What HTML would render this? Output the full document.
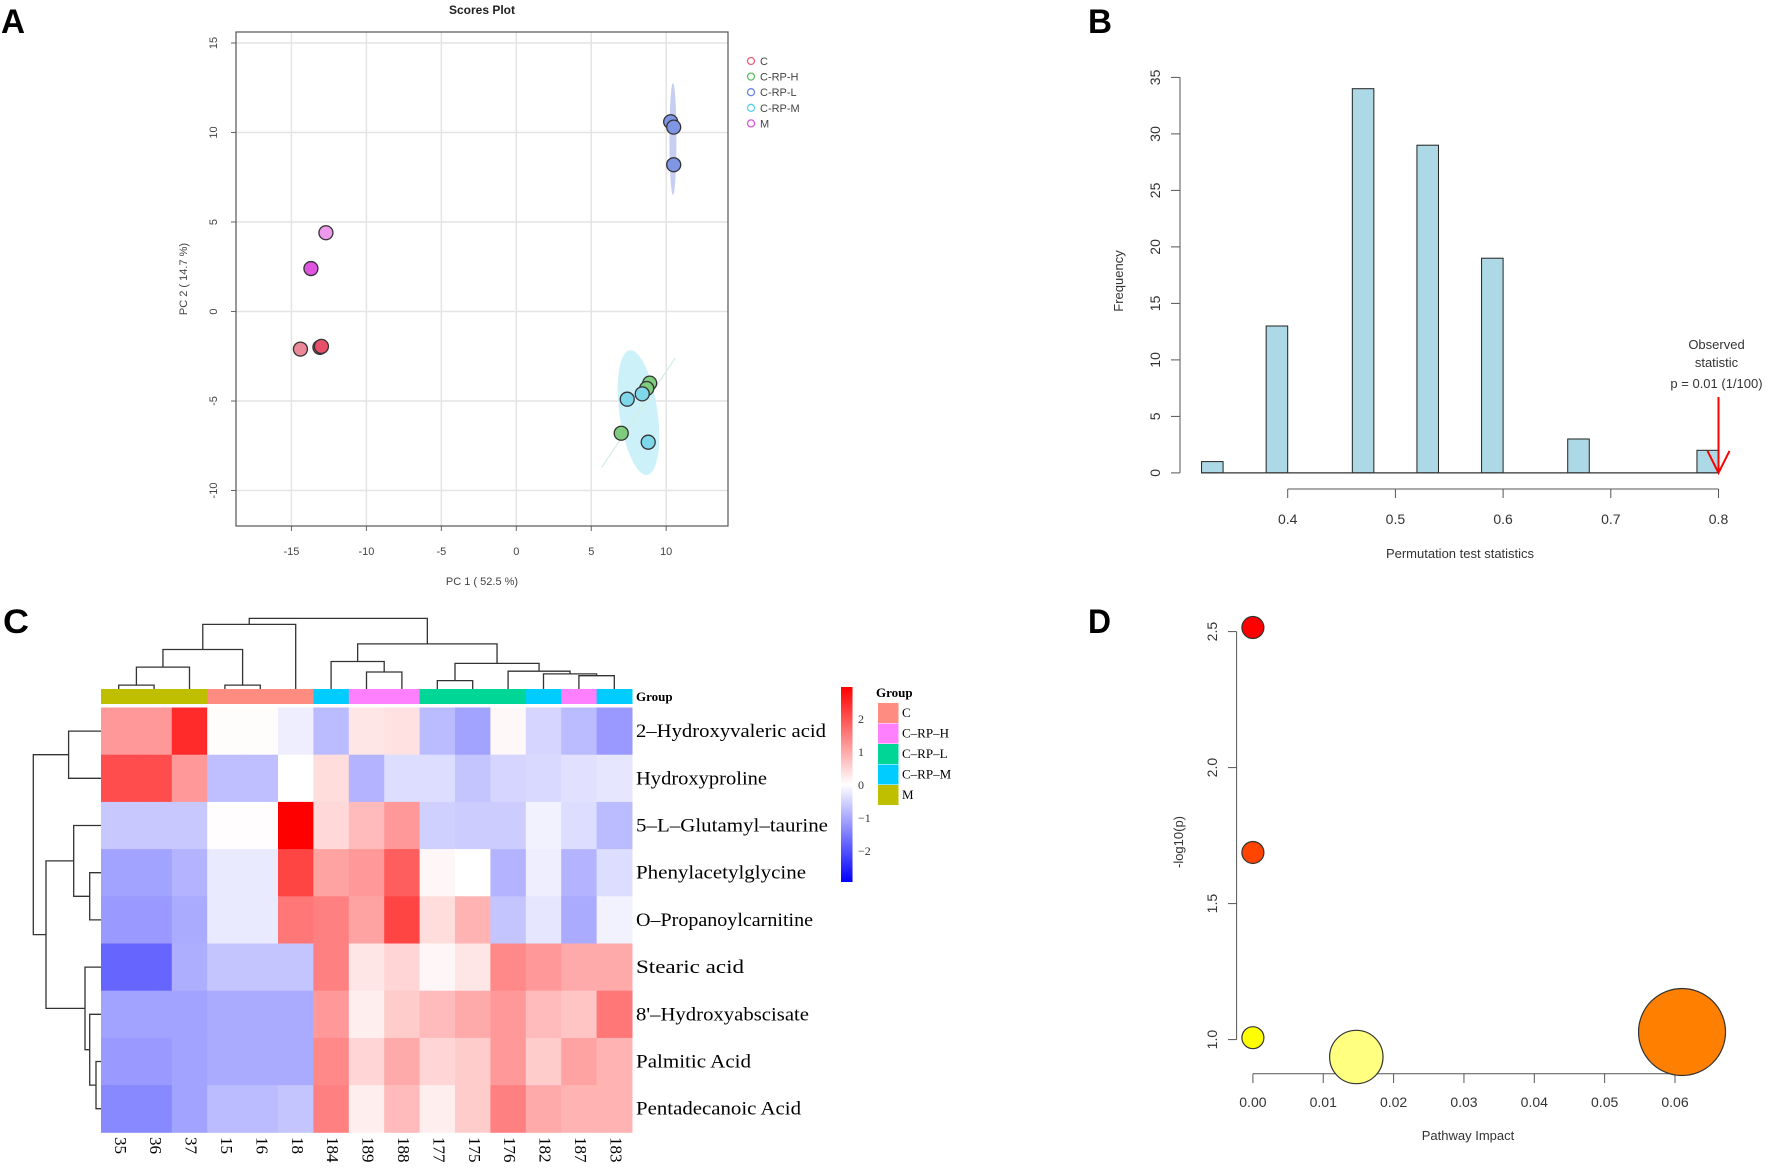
<!DOCTYPE html>
<html><head><meta charset="utf-8"><style>
html,body{margin:0;padding:0;background:#fff;}
svg{display:block;}
text{font-family:"Liberation Sans",sans-serif;}
.serif{font-family:"Liberation Serif",serif;}
</style></head><body>
<svg id="fig" width="1772" height="1168" viewBox="0 0 1772 1168" xmlns="http://www.w3.org/2000/svg">
<defs>
<linearGradient id="hmgrad" x1="0" y1="0" x2="0" y2="1">
<stop offset="0" stop-color="#ff0000"/><stop offset="0.5" stop-color="#ffffff"/><stop offset="1" stop-color="#0000ff"/>
</linearGradient>
</defs>
<g id="panelA"></g>
<g id="panelB"></g>
<g id="panelC"></g>
<g id="panelD"></g>
</svg>
<script>
// ---------- Panel A data ----------
const aGroups = ["C","C-RP-H","C-RP-L","C-RP-M","M"];
const aGroupColors = ["#e8607a","#5fc05f","#6a86e0","#55d0ea","#e055e0"];
const aPointX = [-14.4,-13.1,-13.0, 8.9,8.7,7.0, 10.3,10.5,10.5, 8.4,7.4,8.8, -12.7,-13.7];
const aPointY = [-2.1,-2.0,-1.95, -4.0,-4.3,-6.8, 10.6,10.3,8.2, -4.6,-4.9,-7.3, 4.4,2.4];
const aPointGroup = [0,0,0, 1,1,1, 2,2,2, 3,3,3, 4,4];
const aPointFill = ["#ea8898","#e8506a","#e8506a","#7fcc7f","#7fcc7f","#7fcc7f","#7f96e4","#7f96e4","#7f96e4","#7fd8ea","#7fd8ea","#7fd8ea","#ee99ee","#e055e0"];
const aTicksX = [-15,-10,-5,0,5,10];
const aTicksY = [-10,-5,0,5,10,15];
// ---------- Panel B data ----------
const bBinStart = [0.32,0.38,0.46,0.52,0.58,0.66,0.78];
const bCounts = [1,13,34,29,19,3,2];
const bTicksX = [0.4,0.5,0.6,0.7,0.8];
const bTicksY = [0,5,10,15,20,25,30,35];
const bObserved = 0.8;
// ---------- Panel C data ----------
const cCols = ["35","36","37","15","16","18","184","189","188","177","175","176","182","187","183"];
const cColGroup = [4,4,4,0,0,0,3,1,1,2,2,2,3,1,3];
const cGroupNames = ["C","C\u2013RP\u2013H","C\u2013RP\u2013L","C\u2013RP\u2013M","M"];
const cGroupColors = ["#ff8c80","#ff80ff","#00d696","#00ccff","#bfbf00"];
const cRows = ["2\u2013Hydroxyvaleric acid","Hydroxyproline","5\u2013L\u2013Glutamyl\u2013taurine","Phenylacetylglycine","O\u2013Propanoylcarnitine","Stearic acid","8'\u2013Hydroxyabscisate","Palmitic Acid","Pentadecanoic Acid"];
const cVals0 = [1.2,1.2,2.5,0.03,0.03,-0.2,-0.8,0.3,0.35,-0.8,-1.1,0.08,-0.5,-0.8,-1.2];
const cVals1 = [2.1,2.1,1.2,-0.75,-0.75,0.0,0.4,-0.9,-0.4,-0.4,-0.7,-0.5,-0.45,-0.35,-0.3];
const cVals2 = [-0.65,-0.65,-0.65,0.02,0.02,3.0,0.45,0.8,1.2,-0.55,-0.6,-0.6,-0.15,-0.4,-0.8];
const cVals3 = [-1.1,-1.1,-0.9,-0.25,-0.25,2.2,1.1,1.2,1.9,0.1,0.0,-0.9,-0.2,-0.9,-0.4];
const cVals4 = [-1.2,-1.2,-1.0,-0.25,-0.25,1.6,1.5,1.1,2.2,0.4,0.9,-0.7,-0.3,-1.0,-0.15];
const cVals5 = [-1.8,-1.8,-0.95,-0.7,-0.7,-0.7,1.5,0.3,0.5,0.1,0.3,1.4,1.2,1.0,1.0];
const cVals6 = [-1.1,-1.1,-1.1,-1.0,-1.0,-1.0,1.2,0.2,0.6,0.8,1.0,1.2,0.8,0.7,1.6];
const cVals7 = [-1.2,-1.2,-1.1,-1.0,-1.0,-1.0,1.4,0.5,1.0,0.5,0.6,1.2,0.6,1.1,0.9];
const cVals8 = [-1.4,-1.4,-1.1,-0.8,-0.8,-0.7,1.5,0.2,0.8,0.2,0.6,1.5,1.0,0.9,0.9];
const cLegendTicks = [2,1,0,-1,-2];
// ---------- Panel D data ----------
const dImpact = [0,0,0,0.0147,0.061];
const dLogP = [2.515,1.688,1.007,0.936,1.028];
const dRadius = [11,11,11,26.7,43.5];
const dColors = ["#ff0000","#ff4500","#ffff00","#ffff80","#ff8000"];
const dTicksX = [0,0.01,0.02,0.03,0.04,0.05,0.06];
const dTicksY = [1.0,1.5,2.0,2.5];

const NS="http://www.w3.org/2000/svg";
function mk(parent,tag,attrs,txt){const e=document.createElementNS(NS,tag);for(const k in attrs)e.setAttribute(k,attrs[k]);if(txt!==undefined)e.textContent=txt;parent.appendChild(e);return e;}

// ================= Panel A =================
(function(){
const g=document.getElementById('panelA');
const xA=v=>516.3+v*14.99, yA=v=>311.5-v*17.9;
let t=mk(g,'text',{x:1,y:33,'font-size':34,'font-weight':'bold',textLength:24,lengthAdjust:'spacingAndGlyphs'},'A');


t=mk(g,'text',{x:482,y:14,'font-size':12,'font-weight':'bold','text-anchor':'middle',fill:'#222'},'Scores Plot');


aTicksX.forEach(v=>{const l=mk(g,'line',{x1:xA(v),x2:xA(v),y1:32,y2:526,stroke:'#e4e4e4','stroke-width':1.5});


const tk=mk(g,'line',{x1:xA(v),x2:xA(v),y1:526,y2:531,stroke:'#666'});


const tl=mk(g,'text',{x:xA(v),y:555,'font-size':11,'text-anchor':'middle',fill:'#444'},v<0?'-'+Math.abs(v):String(v));

});
aTicksY.forEach(v=>{const l=mk(g,'line',{x1:236,x2:728,y1:yA(v),y2:yA(v),stroke:'#e4e4e4','stroke-width':1.5});


const tk=mk(g,'line',{x1:231,x2:236,y1:yA(v),y2:yA(v),stroke:'#666'});


const tl=mk(g,'text',{x:217,y:yA(v),'font-size':11,'text-anchor':'middle',fill:'#444',transform:`rotate(-90 217 ${yA(v)})`},v<0?'-'+Math.abs(v):String(v));

});
let r=mk(g,'rect',{x:236,y:32,width:492,height:494,fill:'none',stroke:'#555','stroke-width':1.2});


t=mk(g,'text',{x:482,y:585,'font-size':11,'text-anchor':'middle',fill:'#444'},'PC 1 ( 52.5 %)');


t=mk(g,'text',{x:187,y:279,'font-size':11,'text-anchor':'middle',fill:'#444',transform:'rotate(-90 187 279)'},'PC 2 ( 14.7 %)');


let e=mk(g,'ellipse',{cx:xA(8.15),cy:yA(-5.65),rx:19,ry:63,fill:'#cdf1f9',transform:`rotate(-8 ${xA(8.15)} ${yA(-5.65)})`});


e=mk(g,'line',{x1:xA(5.7),y1:yA(-8.7),x2:xA(10.6),y2:yA(-2.6),stroke:'#d2eedd','stroke-width':1.2});


e=mk(g,'ellipse',{cx:xA(10.45),cy:yA(9.63),rx:3.5,ry:56,fill:'#c6cff2'});


aPointX.forEach((v,i)=>{const c=mk(g,'circle',{cx:xA(v),cy:yA(aPointY[i]),r:7,fill:aPointFill[i],stroke:'#333','stroke-width':1.3});

});
aGroups.forEach((n,i)=>{const y=61+i*15.6;
const c=mk(g,'circle',{cx:751,cy:y,r:3.5,fill:'none',stroke:aGroupColors[i],'stroke-width':1.3});


const tl=mk(g,'text',{x:760,y:y+4,'font-size':11,fill:'#444'},n);

});
})();

// ================= Panel B =================
(function(){
const g=document.getElementById('panelB');
const xB=v=>1287.7+(v-0.4)*1077, yB=v=>472.9-v*11.3;
let t=mk(g,'text',{x:1088,y:33,'font-size':34,'font-weight':'bold',textLength:24,lengthAdjust:'spacingAndGlyphs'},'B');


bBinStart.forEach((b,i)=>{const r=mk(g,'rect',{x:xB(b),y:yB(bCounts[i]),width:xB(b+0.02)-xB(b),height:yB(0)-yB(bCounts[i]),fill:'#add8e6',stroke:'#222','stroke-width':1});

});
let l=mk(g,'line',{x1:xB(bBinStart[0]),x2:xB(bBinStart[bBinStart.length-1]+0.02),y1:yB(0),y2:yB(0),stroke:'#333','stroke-width':1.2});


l=mk(g,'line',{x1:1180,x2:1180,y1:yB(0),y2:yB(35),stroke:'#555'});


bTicksY.forEach(v=>{const tk=mk(g,'line',{x1:1171,x2:1180,y1:yB(v),y2:yB(v),stroke:'#555'});


const tl=mk(g,'text',{x:1160,y:yB(v),'font-size':14,'text-anchor':'middle',fill:'#333',transform:`rotate(-90 1160 ${yB(v)})`},String(v));

});
l=mk(g,'line',{x1:xB(0.4),x2:xB(0.8),y1:489,y2:489,stroke:'#555'});


bTicksX.forEach(v=>{const tk=mk(g,'line',{x1:xB(v),x2:xB(v),y1:489,y2:498,stroke:'#555'});


const tl=mk(g,'text',{x:xB(v),y:524,'font-size':14,'text-anchor':'middle',fill:'#333'},v.toFixed(1));

});
t=mk(g,'text',{x:1460,y:558,'font-size':13,'text-anchor':'middle',fill:'#333'},'Permutation test statistics');


t=mk(g,'text',{x:1123,y:281,'font-size':13,'text-anchor':'middle',fill:'#333',transform:'rotate(-90 1123 281)'},'Frequency');


const ax=xB(bObserved);
[['Observed',349],['statistic',367],['p = 0.01 (1/100)',388]].forEach(a=>{const tl=mk(g,'text',{x:ax-2,y:a[1],'font-size':13,'text-anchor':'middle',fill:'#333'},a[0]);

});
l=mk(g,'path',{d:`M${ax} 397 L${ax} ${yB(0)} M${ax-11} ${yB(0)-22} L${ax} ${yB(0)} L${ax+11} ${yB(0)-22}`,stroke:'#ff0000','stroke-width':2,fill:'none'});


})();

// ================= Panel C =================
(function(){
const g=document.getElementById('panelC');
const vals=[cVals0,cVals1,cVals2,cVals3,cVals4,cVals5,cVals6,cVals7,cVals8];
const x0=101,cw=35.4,y0=707.5,rh=47.2;
const colX=i=>x0+i*cw, rowY=j=>y0+j*rh;
function col(v){v=Math.max(-3,Math.min(3,v));const t=Math.abs(v)/3;const k=Math.round(255*(1-t));return v>=0?`rgb(255,${k},${k})`:`rgb(${k},${k},255)`;}
let t=mk(g,'text',{x:3,y:633,'font-size':34,'font-weight':'bold',textLength:26,lengthAdjust:'spacingAndGlyphs'},'C');


vals.forEach((row,j)=>row.forEach((v,i)=>{const r=mk(g,'rect',{x:colX(i),y:rowY(j),width:cw+0.5,height:rh+0.5,fill:col(v)});

}));
cColGroup.forEach((gi,i)=>{const r=mk(g,'rect',{x:colX(i),y:689,width:cw+0.5,height:15,fill:cGroupColors[gi]});

});
t=mk(g,'text',{x:636,y:701,'font-size':13,'font-weight':'bold',class:'serif'},'Group');


cRows.forEach((n,j)=>{const w=[190,131,192,170,177,108,173,115,165][j];
const tl=mk(g,'text',{x:636,y:rowY(j)+rh/2+6,'font-size':19,class:'serif',textLength:w,lengthAdjust:'spacingAndGlyphs'},n);

});
cCols.forEach((n,i)=>{const cx=colX(i)+cw/2;
const tl=mk(g,'text',{x:cx,y:1137,'font-size':17,class:'serif','dominant-baseline':'middle',transform:`rotate(90 ${cx} 1137)`},n);

});
const colMerges=[[0,1,685.1],[-1,2,667.1],[3,4,685.1],[-2,-3,649.5],[-4,5,624.4],[7,8,672.0],[6,-6,661.5],[9,10,680.6],[13,14,675.7],[12,-9,673.9],[11,-10,671.2],[-8,-11,663.4],[-7,-12,643.9],[-5,-13,618.4]];
const cn=[];const base=689;
function cpos(k){return k>=0?{x:colX(k)+cw/2,h:base}:cn[-k-1];}
colMerges.forEach(m=>{const a=cpos(m[0]),b=cpos(m[1]);const p=mk(g,'path',{d:`M${a.x} ${a.h} V${m[2]} H${b.x} V${b.h}`,fill:'none',stroke:'#333','stroke-width':1.3});


cn.push({x:(a.x+b.x)/2,h:m[2]});});
const rowMerges=[[0,1,68.6],[3,4,89.7],[2,-2,73.7],[7,8,96],[6,-4,89.7],[5,-5,85],[-3,-6,46],[-1,-7,33.3]];
const rn=[];
function rpos(k){return k>=0?{y:rowY(k)+rh/2,h:101}:rn[-k-1];}
rowMerges.forEach(m=>{const a=rpos(m[0]),b=rpos(m[1]);const p=mk(g,'path',{d:`M${a.h} ${a.y} H${m[2]} V${b.y} H${b.h}`,fill:'none',stroke:'#333','stroke-width':1.3});


rn.push({y:(a.y+b.y)/2,h:m[2]});});
let r=mk(g,'rect',{x:841,y:687,width:11.5,height:195,fill:'url(#hmgrad)'});


cLegendTicks.forEach(v=>{const y=785-v*33;const tl=mk(g,'text',{x:858,y:y+4,'font-size':12,class:'serif',fill:'#333'},v<0?'\u2212'+Math.abs(v):String(v));

});
t=mk(g,'text',{x:876,y:697,'font-size':13,'font-weight':'bold',class:'serif'},'Group');


cGroupNames.forEach((n,i)=>{const y=703+i*20.5;
const b=mk(g,'rect',{x:878,y:y,width:20.5,height:20,fill:cGroupColors[i]});


const tl=mk(g,'text',{x:902,y:y+14,'font-size':13,class:'serif'},n);

});
})();

// ================= Panel D =================
(function(){
const g=document.getElementById('panelD');
const xD=v=>1252.9+v*7035, yD=v=>1039.6-(v-1)*272;
let t=mk(g,'text',{x:1088,y:633,'font-size':34,'font-weight':'bold',textLength:23,lengthAdjust:'spacingAndGlyphs'},'D');


let l=mk(g,'line',{x1:1236.6,x2:1236.6,y1:yD(2.5),y2:yD(1.0),stroke:'#555'});


dTicksY.forEach(v=>{const tk=mk(g,'line',{x1:1228,x2:1236.6,y1:yD(v),y2:yD(v),stroke:'#555'});


const tl=mk(g,'text',{x:1217,y:yD(v),'font-size':14,'text-anchor':'middle',fill:'#333',transform:`rotate(-90 1217 ${yD(v)})`},v.toFixed(1));

});
l=mk(g,'line',{x1:xD(0),x2:xD(0.06),y1:1073.7,y2:1073.7,stroke:'#555'});


dTicksX.forEach(v=>{const tk=mk(g,'line',{x1:xD(v),x2:xD(v),y1:1073.7,y2:1083,stroke:'#555'});


const tl=mk(g,'text',{x:xD(v),y:1107,'font-size':14,'text-anchor':'middle',fill:'#333'},v.toFixed(2));

});
t=mk(g,'text',{x:1468,y:1140,'font-size':13,'text-anchor':'middle',fill:'#333'},'Pathway Impact');


t=mk(g,'text',{x:1183,y:842,'font-size':13,'text-anchor':'middle',fill:'#333',transform:'rotate(-90 1183 842)'},'-log10(p)');


dImpact.forEach((v,i)=>{const c=mk(g,'circle',{cx:xD(v),cy:yD(dLogP[i]),r:dRadius[i],fill:dColors[i],stroke:'#333','stroke-width':1.2});

});
})();
</script>
</body></html>
